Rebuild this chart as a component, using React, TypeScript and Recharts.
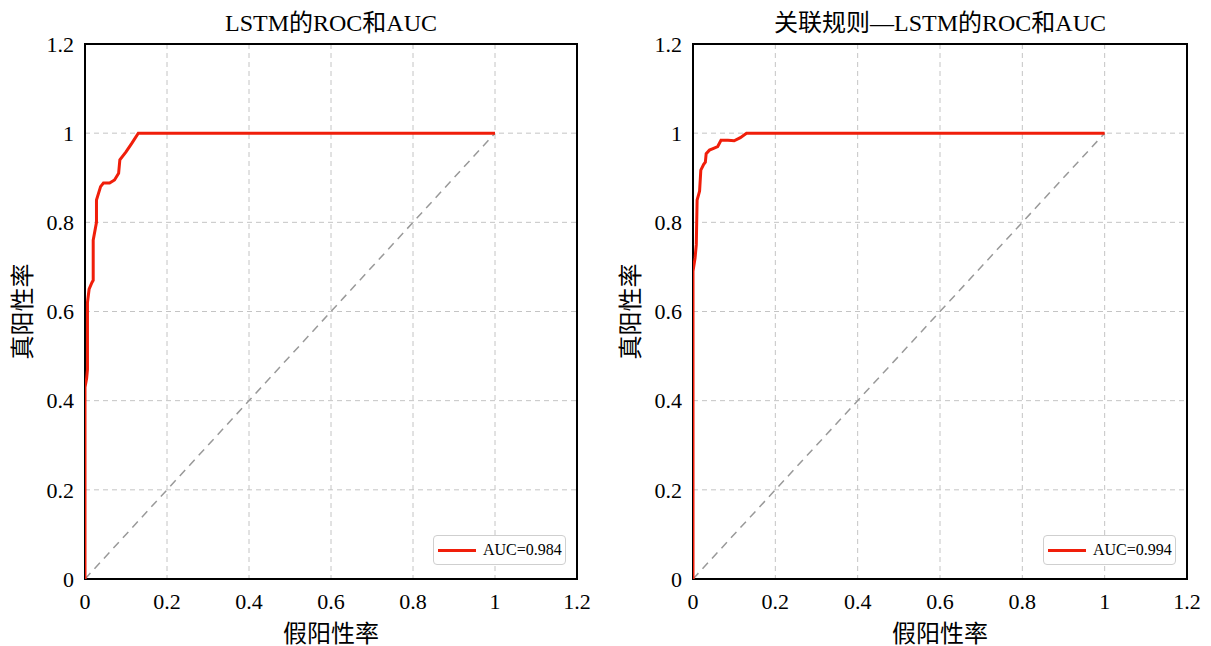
import React from 'react'
import { LineChart, Line, XAxis, YAxis, CartesianGrid, ReferenceArea, Legend, Label } from 'recharts'

const axisTicks = [0, 0.2, 0.4, 0.6, 0.8, 1, 1.2]
const diagonal = [
  { x: 0, y: 0 },
  { x: 1, y: 1 },
]

// LSTM ROC curve
const lstmFpr = [0, 0, 0.004, 0.006, 0.006, 0.01, 0.017, 0.02, 0.02, 0.028, 0.028, 0.038, 0.045, 0.06, 0.072, 0.082, 0.085, 0.1, 0.114, 0.13, 1]
const lstmTpr = [0, 0.43, 0.45, 0.47, 0.62, 0.65, 0.665, 0.67, 0.76, 0.8, 0.85, 0.88, 0.888, 0.888, 0.895, 0.91, 0.94, 0.958, 0.977, 1, 1]

// association rules + LSTM ROC curve
const arFpr = [0, 0, 0.005, 0.008, 0.01, 0.016, 0.019, 0.026, 0.03, 0.032, 0.04, 0.05, 0.06, 0.068, 0.085, 0.1, 0.115, 0.13, 1]
const arTpr = [0, 0.69, 0.72, 0.75, 0.85, 0.87, 0.917, 0.93, 0.935, 0.954, 0.962, 0.966, 0.97, 0.984, 0.984, 0.983, 0.99, 1, 1]

const toPoints = (xs: number[], ys: number[]) => xs.map((x, i) => ({ x, y: ys[i] }))

const FONT = '"Liberation Serif", "Noto Sans CJK SC", serif'
const RED = '#f01e0a'

interface RocPanelProps {
  title: string
  auc: string
  points: { x: number; y: number }[]
  left: number
  width: number
  rightMargin: number
}

function RocPanel({ title, auc, points, left, width, rightMargin }: RocPanelProps) {
  const plotLeft = 85
  const plotRight = width - rightMargin
  return (
    <div style={{ position: 'absolute', left, top: 0, width, height: 646 }}>
      <div
        style={{
          position: 'absolute',
          top: 9,
          left: plotLeft,
          width: plotRight - plotLeft,
          textAlign: 'center',
          fontFamily: FONT,
          fontSize: 24,
          color: '#000',
          lineHeight: '28px',
        }}
      >
        {title}
      </div>
      <LineChart width={width} height={646} margin={{ top: 44, right: rightMargin, bottom: 37, left: 12 }}>
        <ReferenceArea x1={0} x2={1.2} y1={0} y2={1.2} fill="none" fillOpacity={0} stroke="#000" strokeWidth={2} ifOverflow="visible" />
        <CartesianGrid stroke="#c4c4c4" strokeDasharray="5 4" />
        <XAxis
          type="number"
          dataKey="x"
          domain={[0, 1.2]}
          ticks={axisTicks}
          allowDataOverflow
          height={30}
          axisLine={false}
          tickLine={false}
          tickSize={0}
          tickMargin={14}
          tick={{ fontFamily: FONT, fontSize: 22, fill: '#000' }}
        >
          <Label value="假阳性率" position="bottom" offset={16} style={{ fontFamily: FONT, fontSize: 24, fill: '#000' }} />
        </XAxis>
        <YAxis
          type="number"
          dataKey="y"
          domain={[0, 1.2]}
          ticks={axisTicks}
          allowDataOverflow
          width={73}
          axisLine={false}
          tickLine={false}
          tickSize={0}
          tickMargin={11}
          tick={{ fontFamily: FONT, fontSize: 22, fill: '#000' }}
        >
          <Label
            value="真阳性率"
            angle={-90}
            position="insideLeft"
            offset={10}
            style={{ fontFamily: FONT, fontSize: 24, fill: '#000', textAnchor: 'middle' }}
          />
        </YAxis>
        <Line
          data={diagonal}
          dataKey="y"
          type="linear"
          stroke="#999"
          strokeWidth={1.5}
          strokeDasharray="8 6"
          dot={false}
          activeDot={false}
          isAnimationActive={false}
        />
        <Line
          data={points}
          dataKey="y"
          type="linear"
          stroke={RED}
          strokeWidth={3}
          dot={false}
          activeDot={false}
          isAnimationActive={false}
        />
        <Legend
          layout="horizontal"
          verticalAlign="middle"
          align="center"
          wrapperStyle={{ left: plotRight - 144, top: 535, width: 'auto', height: 'auto' }}
          content={() => (
            <div
              style={{
                display: 'flex',
                alignItems: 'center',
                width: 133,
                height: 30,
                border: '1px solid #cfcfcf',
                borderRadius: 4,
                background: '#fff',
                boxSizing: 'border-box',
                fontFamily: FONT,
                fontSize: 16,
                color: '#000',
              }}
            >
              <span style={{ display: 'inline-block', width: 38, height: 3, background: RED, marginLeft: 4, marginRight: 7 }} />
              {auc}
            </div>
          )}
        />
      </LineChart>
    </div>
  )
}

export default function App() {
  return (
    <div style={{ position: 'absolute', left: 0, top: 0, width: 1211, height: 646, background: '#fff' }}>
      <RocPanel title="LSTM的ROC和AUC" auc="AUC=0.984" points={toPoints(lstmFpr, lstmTpr)} left={0} width={605} rightMargin={28} />
      <RocPanel
        title="关联规则—LSTM的ROC和AUC"
        auc="AUC=0.994"
        points={toPoints(arFpr, arTpr)}
        left={608}
        width={603}
        rightMargin={24}
      />
    </div>
  )
}
